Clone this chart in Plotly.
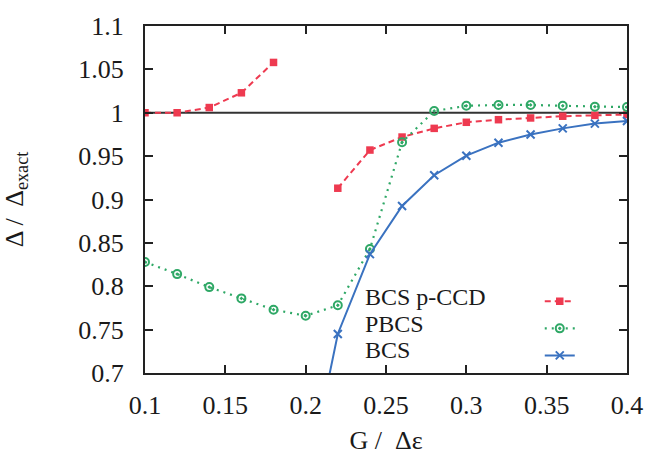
import plotly.graph_objects as go

G = [0.10, 0.12, 0.14, 0.16, 0.18, 0.20, 0.22, 0.24, 0.26, 0.28, 0.30, 0.32, 0.34, 0.36, 0.38, 0.40]

pccd = [1.000, 1.000, 1.006, 1.023, 1.058, None, 0.913, 0.957, 0.972, 0.982, 0.989, 0.992, 0.994, 0.996, 0.997, 0.998]
pbcs = [0.828, 0.814, 0.799, 0.786, 0.773, 0.766, 0.778, 0.843, 0.966, 1.002, 1.008, 1.009, 1.009, 1.008, 1.007, 1.0065]
bcs_G = [0.20, 0.22, 0.24, 0.26, 0.28, 0.30, 0.32, 0.34, 0.36, 0.38, 0.40]
bcs = [0.565, 0.745, 0.837, 0.8925, 0.928, 0.9505, 0.9655, 0.975, 0.982, 0.9875, 0.9905]

names = ["BCS p-CCD", "PBCS", "BCS"]
xticks = [0.1, 0.15, 0.2, 0.25, 0.3, 0.35, 0.4]
xticklabels = ["0.1", "0.15", "0.2", "0.25", "0.3", "0.35", "0.4"]
yticks = [0.7, 0.75, 0.8, 0.85, 0.9, 0.95, 1.0, 1.05, 1.1]
yticklabels = ["0.7", "0.75", "0.8", "0.85", "0.9", "0.95", "1", "1.05", "1.1"]

RED = "#ee3a50"
GREEN = "#2fa866"
BLUE = "#3a72c0"
FONT = "Liberation Serif"
FS = 26
TXT = "#1a1a1a"

fig = go.Figure()
fig.add_hline(y=1.0, line=dict(color="#333333", width=2.2), layer="below")

fig.add_trace(go.Scatter(x=G, y=pccd, mode="lines+markers", name="",
    line=dict(color=RED, width=2, dash="6px,4px"), marker=dict(symbol="square", size=7.5, color=RED), connectgaps=False))
fig.add_trace(go.Scatter(x=G, y=pbcs, mode="lines+markers", name="",
    line=dict(color=GREEN, width=2.2, dash="2px,5px"), marker=dict(symbol="circle-open-dot", size=8, color=GREEN, line=dict(width=2))))
fig.add_trace(go.Scatter(x=bcs_G, y=bcs, mode="lines+markers", name="",
    line=dict(color=BLUE, width=2), marker=dict(symbol="x-thin-open", size=8, color=BLUE, line=dict(width=2, color=BLUE))))

legend_y = [0.218, 0.1425, 0.067]
for n, yy in zip(names, legend_y):
    fig.add_annotation(x=0.453, y=yy, xref="paper", yref="paper", text=n, showarrow=False,
        xanchor="left", yanchor="middle",
        font=dict(family=FONT, size=24, color=TXT))

axis_common = dict(showline=True, linecolor="#222222", linewidth=2, mirror="ticks",
    ticks="inside", ticklen=8, tickwidth=1.5, tickcolor="#222222", showgrid=False, zeroline=False,
    tickfont=dict(family=FONT, size=FS, color=TXT))

fig.update_xaxes(range=[0.1, 0.4], tickvals=xticks, ticktext=xticklabels,
    ticklabelstandoff=8,
    title=dict(text="G /\u00a0 Δε", font=dict(family=FONT, size=FS, color=TXT), standoff=12), **axis_common)
fig.update_yaxes(range=[0.7, 1.1], tickvals=yticks, ticktext=yticklabels,
    ticklabelstandoff=14,
    title=dict(text="Δ /\u00a0 Δ<sub>exact</sub>", font=dict(family=FONT, size=FS, color=TXT), standoff=48), **axis_common)

fig.update_layout(width=655, height=462, margin=dict(l=144, r=28, t=17, b=87),
    plot_bgcolor="white", paper_bgcolor="white", showlegend=True,
    legend=dict(x=0.819, y=0.26, xanchor="left", yanchor="top", bgcolor="rgba(0,0,0,0)",
                font=dict(family=FONT, size=18.5), itemwidth=30, tracegroupgap=0))

fig.write_html("out.html")
